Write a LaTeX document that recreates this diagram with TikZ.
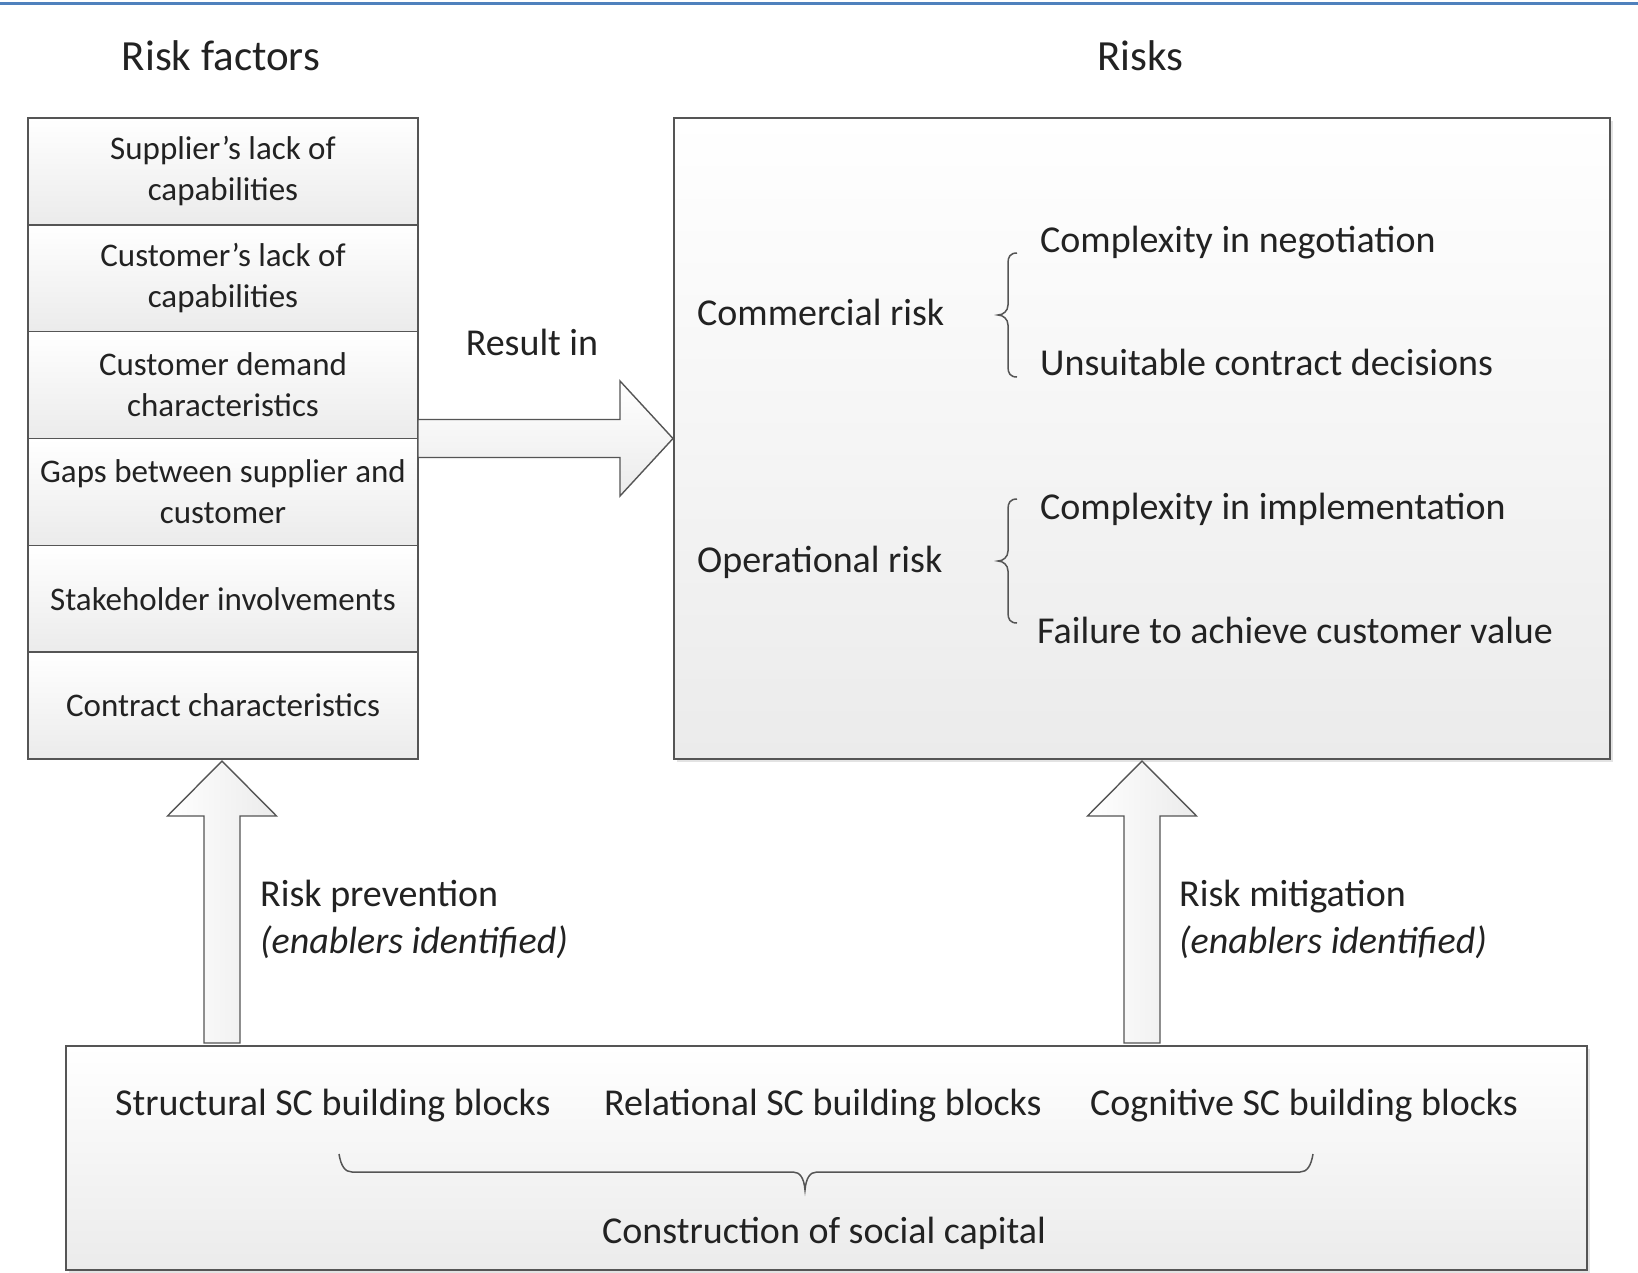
\documentclass[tikz,border=0pt]{standalone}
\usepackage{fontspec}
\setmainfont{Carlito}
\usetikzlibrary{calc,shadows}

\definecolor{rule}{HTML}{4F81BD}
\definecolor{edge}{HTML}{555555}
\definecolor{shade}{HTML}{EBEBEB}
\definecolor{ink}{HTML}{222222}

\begin{document}
\begin{tikzpicture}[x=1pt,y=-1pt,
  every node/.style={text=ink},
  heading/.style={font=\fontsize{43}{50}\selectfont, inner sep=0pt, anchor=base},
  label/.style={font=\fontsize{38}{47}\selectfont, inner sep=0pt, anchor=base west, align=left},
  cell/.style={draw=edge, line width=1.5pt, top color=white, bottom color=shade,
    minimum width=390pt, minimum height=106.83pt, inner sep=0pt, outer sep=0pt,
    align=center, font=\fontsize{33}{41}\selectfont},
  panel/.style={draw=edge, line width=1.5pt, top color=white, bottom color=shade,
    inner sep=0pt, outer sep=0pt,
    drop shadow={shadow xshift=2.5pt, shadow yshift=-2.5pt, opacity=0.22}},
  fatarrow/.style={draw=edge, line width=1.4pt, line join=miter},
  bracket/.style={draw=edge, line width=1.5pt},
  vbrace/.pic={
    \draw[bracket] (0,0) .. controls (-7,0) and (-9,4) .. (-9,10) -- (-9,52)
      .. controls (-9,58) and (-14,62) .. (-19,62)
      .. controls (-14,62) and (-9,66) .. (-9,72) -- (-9,114)
      .. controls (-9,120) and (-7,124) .. (0,124);
  }]

% canvas
\fill[white] (0,0) rectangle (1638,1272);
\useasboundingbox (0,0) rectangle (1638,1272);
\draw[rule, line width=3pt] (0,3) -- (1638,3);

% column headings
\node[heading] (hfactors) at (221,70) {Risk factors};
\node[heading] (hrisks) at (1140,70) {Risks};

% risk factor stack
\node[cell] (f1) at (223,171.42) {Supplier’s lack of\\capabilities};
\node[cell] (f2) at (223,278.25) {Customer’s lack of\\capabilities};
\node[cell] (f3) at (223,385.08) {Customer demand\\characteristics};
\node[cell] (f4) at (223,491.92) {Gaps between supplier and\\customer};
\node[cell] (f5) at (223,598.75) {Stakeholder involvements};
\node[cell] (f6) at (223,705.58) {Contract characteristics};

% risks panel
\node[panel, minimum width=936pt, minimum height=641pt] (risks) at (1142,438.5) {};
\node[label] (comm) at (697,325) {Commercial risk};
\node[label] (oper) at (697,572) {Operational risk};
\pic at (1017,253) {vbrace};
\pic at (1017,499) {vbrace};
\node[label] (c1) at (1040,252) {Complexity in negotiation};
\node[label] (c2) at (1040,375) {Unsuitable contract decisions};
\node[label] (o1) at (1040,519) {Complexity in implementation};
\node[label] (o2) at (1037,643) {Failure to achieve customer value};

% social capital panel
\node[panel, minimum width=1521pt, minimum height=224pt] (sc) at (826.5,1158) {};
\node[label] (b1) at (115,1115) {Structural SC building blocks};
\node[label] (b2) at (604,1115) {Relational SC building blocks};
\node[label] (b3) at (1090,1115) {Cognitive SC building blocks};
\node[label, anchor=base] (cons) at (824,1243) {Construction of social capital};
\draw[bracket] (339,1154) .. controls (341,1166) and (345,1172) .. (352,1172)
  -- (793,1172) .. controls (800,1172) and (804,1178) .. (805,1190)
  .. controls (806,1178) and (810,1172) .. (817,1172)
  -- (1300,1172) .. controls (1307,1172) and (1311,1166) .. (1313,1154);

% "result in" block arrow
\coordinate (rs) at (f3.south east);
\coordinate (rt) at ($(risks.west)+(-1,0)$);
\draw[fatarrow, top color=white, bottom color=shade]
  ($(rs)+(0,-19)$) -- ($(rt)+(-53,-19)$) -- ($(rt)+(-53,-57.5)$) -- (rt)
  -- ($(rt)+(-53,57.5)$) -- ($(rt)+(-53,19)$) -- ($(rs)+(0,19)$) -- cycle;
\node[label, anchor=base] (resin) at (532,355) {Result in};

% prevention block arrow
\coordinate (ps) at ($(sc.north -| f6.south)+(-1,-3)$);
\coordinate (pt) at ($(f6.south)+(-1,2)$);
\draw[fatarrow, left color=white, right color=shade]
  ($(ps)+(-18,0)$) -- ($(pt)+(-18,55)$) -- ($(pt)+(-54.5,55)$) -- (pt)
  -- ($(pt)+(54.5,55)$) -- ($(pt)+(18,55)$) -- ($(ps)+(18,0)$) -- cycle;
\node[label] (prev) at (260,953) {Risk prevention\\\textit{(enablers identified)}};

% mitigation block arrow
\coordinate (ms) at ($(sc.north -| risks.south)+(0,-3)$);
\coordinate (mt) at ($(risks.south)+(0,2)$);
\draw[fatarrow, left color=white, right color=shade]
  ($(ms)+(-18,0)$) -- ($(mt)+(-18,55)$) -- ($(mt)+(-54.5,55)$) -- (mt)
  -- ($(mt)+(54.5,55)$) -- ($(mt)+(18,55)$) -- ($(ms)+(18,0)$) -- cycle;
\node[label] (miti) at (1179,953) {Risk mitigation\\\textit{(enablers identified)}};

\end{tikzpicture}
\end{document}
